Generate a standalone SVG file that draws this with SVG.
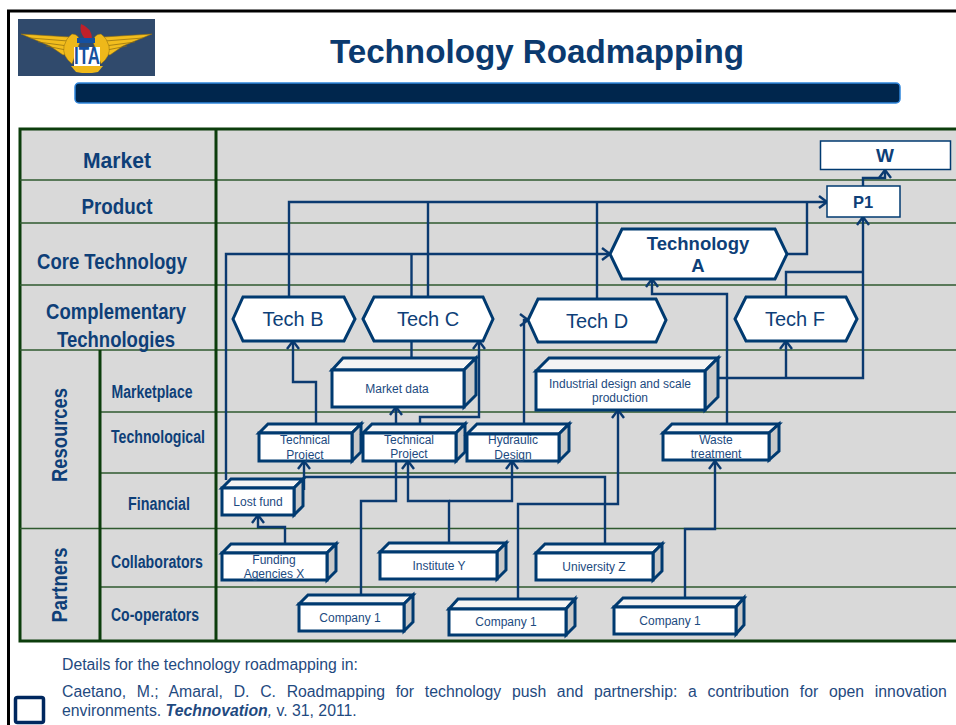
<svg xmlns="http://www.w3.org/2000/svg" width="956" height="725" viewBox="0 0 956 725">
<style>
text{font-family:"Liberation Sans",Arial,sans-serif;fill:#0e3f78}
.h{font-weight:bold;text-anchor:middle;font-size:22.500px}
.s{font-weight:bold;text-anchor:middle;font-size:17.500px}
.grid{stroke:#2f5a2f;stroke-width:1.5;fill:none}
.heavy{stroke:#0c3d0c;stroke-width:3;fill:none}
.c{fill:none;stroke:#0b3a70;stroke-width:2.4;stroke-linejoin:miter}
.a{marker-end:url(#arr)}
.f{fill:#fff;stroke:#003a70;stroke-width:3}
.t{fill:#f4f4f4;stroke:#003a70;stroke-width:3}
.d{fill:#c9c9c9;stroke:#003a70;stroke-width:3}
.hex{fill:#fff;stroke:#003a70;stroke-width:3}
.b{font-size:12px;text-anchor:middle;fill:#1c4a80}
.x{font-size:20px;text-anchor:middle;fill:#0e3f78}
.foot{font-size:15.8px;fill:#1f4a80}
</style>
<defs>
<marker id="arr" markerUnits="userSpaceOnUse" markerWidth="16" markerHeight="16" refX="11" refY="8" orient="auto">
<path d="M3 2 L11 8 L3 14" fill="none" stroke="#0b3a70" stroke-width="2.4"/>
</marker>
</defs>
<rect width="956" height="725" fill="#fff"/>
<path d="M8.500 725V11H956" fill="none" stroke="#000" stroke-width="3"/>
<g id="logo">
<rect x="18" y="19" width="137" height="57" fill="#304a6c"/>
<path d="M21 34L70 37L76 42L72 53L63 55L50 46Z M152 34L103 37L97 42L101 53L110 55L123 46Z" fill="#f2bd1d" stroke="#8a6a10" stroke-width=".6"/>
<path d="M30 38L68 41M38 42L68 46M46 46L66 50M143 38L105 41M135 42L105 46M127 46L107 50" stroke="#8a6a10" stroke-width=".7" fill="none"/>
<path d="M72 34Q79 34 80 42L72 64Q62 56 64 46Q66 38 72 34Z M101 34Q94 34 93 42L101 64Q111 56 109 46Q107 38 101 34Z" fill="#eeb81a" stroke="#8a6a10" stroke-width=".5"/>
<path d="M71 66L103 66L98 72L92 73L82 73L76 72Z" fill="#eeb81a"/>
<path d="M85 39Q79 32 81 24Q92 28 92 39Z" fill="#c0202a"/>
<rect x="74" y="47" width="26" height="19" fill="#fff"/>
<rect x="77" y="38" width="18" height="5" fill="#1450a0"/>
<text x="87" y="64" font-size="24" font-weight="bold" text-anchor="middle" textLength="26" lengthAdjust="spacingAndGlyphs" style="fill:#1450a0">ITA</text>
</g>
<text x="537" y="63" font-size="33.200" font-weight="bold" text-anchor="middle" style="fill:#0b3a6f">Technology Roadmapping</text>
<rect x="75" y="83" width="825" height="20" rx="4" fill="#00264d" stroke="#2f86dc" stroke-width="1.500"/>
<g id="table">
<rect x="20" y="129" width="940" height="512" fill="#d9d9d9"/>
<rect x="20" y="129" width="940" height="512" class="heavy"/>
<path class="grid" d="M20 180H956M20 223H956M20 285H956M20 350H956M100 412H956M100 473H956M20 528.500H956M100 587H956"/>
<path class="heavy" d="M216 129V641M100 350V641"/>
<text class="h" x="117" y="168" textLength="68" lengthAdjust="spacingAndGlyphs">Market</text>
<text class="h" x="117" y="214" textLength="71" lengthAdjust="spacingAndGlyphs">Product</text>
<text class="h" x="112" y="269" textLength="150" lengthAdjust="spacingAndGlyphs">Core Technology</text>
<text class="h" x="116" y="319" textLength="140" lengthAdjust="spacingAndGlyphs">Complementary</text>
<text class="h" x="116" y="347" textLength="118" lengthAdjust="spacingAndGlyphs">Technologies</text>
<text class="s" x="152" y="398" textLength="81" lengthAdjust="spacingAndGlyphs">Marketplace</text>
<text class="s" x="158" y="443" textLength="94" lengthAdjust="spacingAndGlyphs">Technological</text>
<text class="s" x="159" y="510" textLength="62" lengthAdjust="spacingAndGlyphs">Financial</text>
<text class="s" x="157" y="568" textLength="92" lengthAdjust="spacingAndGlyphs">Collaborators</text>
<text class="s" x="155" y="621" textLength="88" lengthAdjust="spacingAndGlyphs">Co-operators</text>
<text class="h" transform="translate(67 435) rotate(-90)" textLength="94" lengthAdjust="spacingAndGlyphs">Resources</text>
<text class="h" transform="translate(67 585) rotate(-90)" textLength="75" lengthAdjust="spacingAndGlyphs">Partners</text>
</g>
<g id="connectors">
<path class="c a" d="M863 186V178H885V170"/>
<path class="c a" d="M289 297V202H827"/>
<path class="c" d="M428 297V202M597 299V202M787 254H807V202"/>
<path class="c a" d="M226 480V254H610"/>
<path class="c" d="M411.500 358V254"/>
<path class="c a" d="M316 424V382H293V341"/>
<path class="c a" d="M396 424V407"/>
<path class="c a" d="M420 424V417H479V341"/>
<path class="c a" d="M524 424V320H528"/>
<path class="c a" d="M285 544V527H258V515"/>
<path class="c a" d="M304 490V461"/>
<path class="c" d="M304 477H605V544"/>
<path class="c" d="M361 595V501H396V461"/>
<path class="c a" d="M449 543V501H408V461"/>
<path class="c a" d="M449 501H512V461"/>
<path class="c a" d="M518 599V504H618V410"/>
<path class="c a" d="M685 598V529H715V461"/>
<path class="c a" d="M727 424V294H652V279"/>
<path class="c a" d="M718 378H863V217"/>
<path class="c a" d="M786 378V341"/>
<path class="c" d="M786 297V272H863"/>
</g>
<g id="n-w"><rect x="820.500" y="141" width="130" height="28.500" fill="#fff" stroke="#003a70" stroke-width="1.500"/><text x="885" y="162" font-size="19" font-weight="bold" text-anchor="middle">W</text></g>
<g id="n-p1"><rect x="827" y="186" width="73" height="31" fill="#fff" stroke="#003a70" stroke-width="1.500"/><text x="863" y="208" font-size="16.500" font-weight="bold" text-anchor="middle">P1</text></g>
<g id="n-techa"><polygon class="hex" points="610,254 622,229 775,229 787,254 775,279 622,279"/><text x="698" y="250" font-size="18.500" font-weight="bold" text-anchor="middle">Technology</text><text x="698" y="272" font-size="18.500" font-weight="bold" text-anchor="middle">A</text></g>
<g id="n-techb"><polygon class="hex" points="233,319 243,297 344,297 355,319 344,341 243,341"/><text class="x" x="293" y="326">Tech B</text></g>
<g id="n-techc"><polygon class="hex" points="363,319 374,297 483,297 493,319 483,341 374,341"/><text class="x" x="428" y="326">Tech C</text></g>
<g id="n-techd"><polygon class="hex" points="528,320 538,299 656,299 666,320 656,342 538,342"/><text class="x" x="597" y="328">Tech D</text></g>
<g id="n-techf"><polygon class="hex" points="735,319 746,297 846,297 857,319 846,341 746,341"/><text class="x" x="795" y="326">Tech F</text></g>
<g id="n-market"><polygon class="t" points="332,370 343,358 476,358 464,370"/><polygon class="d" points="464,370 476,358 476,395 464,407"/><rect class="f" x="332" y="370" width="132" height="37"/><text class="b" x="397" y="393">Market data</text></g>
<g id="n-industrial"><polygon class="t" points="536,371 549,358 718,358 705,371"/><polygon class="d" points="705,371 718,358 718,397 705,410"/><rect class="f" x="536" y="371" width="169" height="39"/><text class="b" x="620" y="388">Industrial design and scale</text><text class="b" x="620" y="402">production</text></g>
<g id="n-tp1"><polygon class="t" points="259,433 268,424 361,424 352,433"/><polygon class="d" points="352,433 361,424 361,452 352,461"/><rect class="f" x="259" y="433" width="93" height="28"/><text class="b" x="305" y="444">Technical</text><text class="b" x="305" y="459">Project</text></g>
<g id="n-tp2"><polygon class="t" points="363,433 372,424 465,424 456,433"/><polygon class="d" points="456,433 465,424 465,452 456,461"/><rect class="f" x="363" y="433" width="93" height="28"/><text class="b" x="409" y="444">Technical</text><text class="b" x="409" y="458">Project</text></g>
<g id="n-hyd"><polygon class="t" points="467,434 477,424 569,424 559,434"/><polygon class="d" points="559,434 569,424 569,451 559,461"/><rect class="f" x="467" y="434" width="92" height="27"/><text class="b" x="513" y="444">Hydraulic</text><text class="b" x="513" y="459">Design</text></g>
<g id="n-waste"><polygon class="t" points="663,433 672,424 779,424 769,433"/><polygon class="d" points="769,433 779,424 779,451 769,460"/><rect class="f" x="663" y="433" width="106" height="27"/><text class="b" x="716" y="444">Waste</text><text class="b" x="716" y="458">treatment</text></g>
<g id="n-lost"><polygon class="t" points="222,488 231,479 303,479 294,488"/><polygon class="d" points="294,488 303,479 303,506 294,515"/><rect class="f" x="222" y="488" width="72" height="27"/><text class="b" x="258" y="506">Lost fund</text></g>
<g id="n-funding"><polygon class="t" points="222,553 231,544 336,544 327,553"/><polygon class="d" points="327,553 336,544 336,571 327,580"/><rect class="f" x="222" y="553" width="105" height="27"/><text class="b" x="274" y="564">Funding</text><text class="b" x="274" y="578">Agencies X</text></g>
<g id="n-inst"><polygon class="t" points="380,552 389,543 506,543 497,552"/><polygon class="d" points="497,552 506,543 506,570 497,579"/><rect class="f" x="380" y="552" width="117" height="27"/><text class="b" x="439" y="570">Institute Y</text></g>
<g id="n-univ"><polygon class="t" points="536,553 545,544 662,544 653,553"/><polygon class="d" points="653,553 662,544 662,571 653,580"/><rect class="f" x="536" y="553" width="117" height="27"/><text class="b" x="594" y="571">University Z</text></g>
<g id="n-co1"><polygon class="t" points="299,604 308,595 413,595 404,604"/><polygon class="d" points="404,604 413,595 413,622 404,631"/><rect class="f" x="299" y="604" width="105" height="27"/><text class="b" x="350" y="622">Company 1</text></g>
<g id="n-co2"><polygon class="t" points="449,609 458,599 575,599 566,609"/><polygon class="d" points="566,609 575,599 575,626 566,635"/><rect class="f" x="449" y="609" width="117" height="26"/><text class="b" x="506" y="626">Company 1</text></g>
<g id="n-co3"><polygon class="t" points="614,607 623,598 744,598 736,607"/><polygon class="d" points="736,607 744,598 744,625 736,634"/><rect class="f" x="614" y="607" width="122" height="27"/><text class="b" x="670" y="625">Company 1</text></g>
<text class="foot" x="62" y="670">Details for the technology roadmapping in:</text>
<text class="foot" x="62" y="697" style="word-spacing:6.300px">Caetano, M.; Amaral, D. C. Roadmapping for technology push and partnership: a contribution for open innovation</text>
<text class="foot" x="62" y="716">environments. <tspan font-weight="bold" font-style="italic">Technovation</tspan><tspan font-style="italic">,</tspan> v. 31, 2011.</text>
<rect x="15.500" y="697.500" width="28" height="25" rx="2" fill="#fff" stroke="#00285f" stroke-width="3.500"/>
</svg>
